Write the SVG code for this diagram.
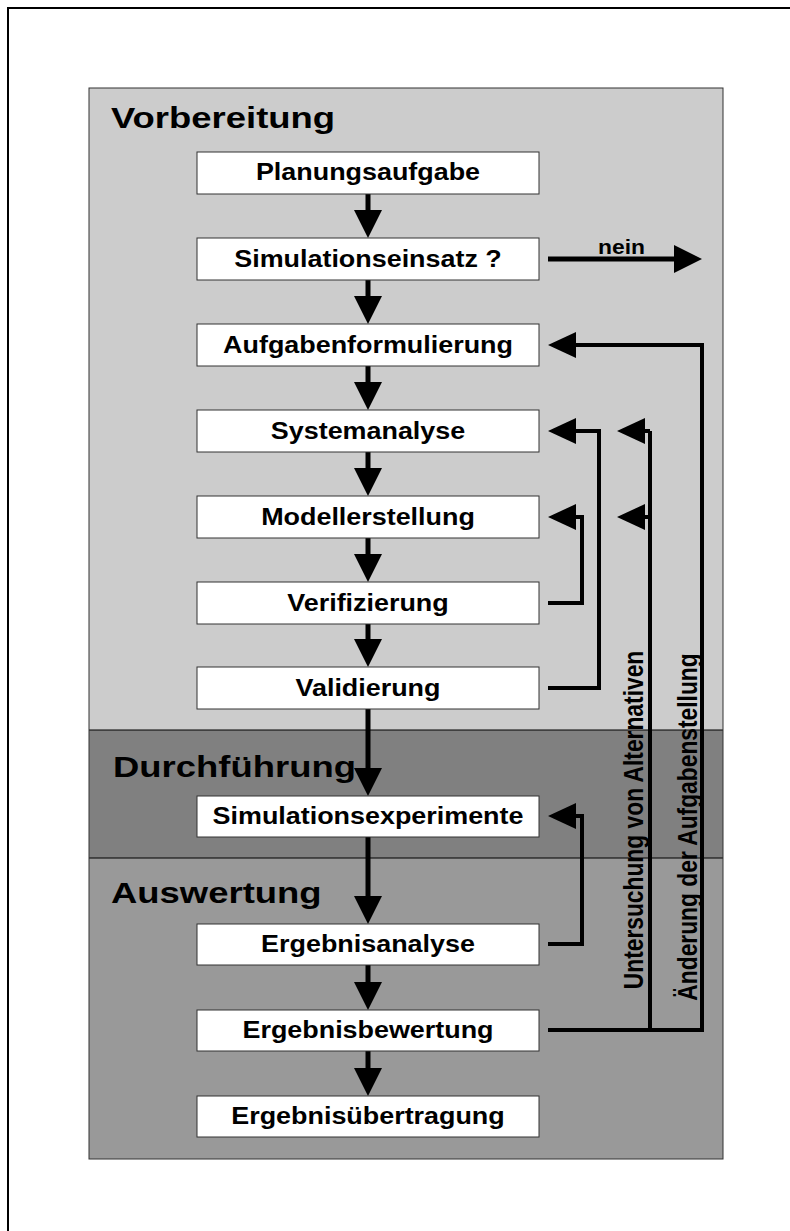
<svg xmlns="http://www.w3.org/2000/svg" width="790" height="1231" viewBox="0 0 790 1231">
<defs>
<style>
.box{fill:#ffffff;stroke:#333333;stroke-width:1}
.t{font-family:"Liberation Sans",Arial,Helvetica,sans-serif;font-weight:bold;font-size:23px;fill:#000;text-anchor:middle}
.h{font-family:"Liberation Sans",Arial,Helvetica,sans-serif;font-weight:bold;font-size:30px;fill:#000}
.v{font-family:"Liberation Sans",Arial,Helvetica,sans-serif;font-weight:bold;font-size:22.8px;fill:#000;text-anchor:middle}
.main{fill:none;stroke:#000;stroke-width:5;marker-end:url(#ah)}
.fb{fill:none;stroke:#000;stroke-width:4;stroke-linejoin:miter;marker-end:url(#af)}
.ln{fill:none;stroke:#000;stroke-width:4;stroke-linejoin:miter}
</style>
<marker id="ah" markerUnits="userSpaceOnUse" markerWidth="28" markerHeight="28" refX="0" refY="14" orient="auto" viewBox="0 0 28 28">
<path d="M0,0 L28,14 L0,28 z" fill="#000"/>
</marker>
<marker id="af" markerUnits="userSpaceOnUse" markerWidth="28" markerHeight="26" refX="0" refY="13" orient="auto" viewBox="0 0 28 26">
<path d="M0,0 L28,13 L0,26 z" fill="#000"/>
</marker>
</defs>

<rect width="790" height="1231" fill="#ffffff"/>
<path d="M8,1231 V8 H790" fill="none" stroke="#000" stroke-width="2"/>

<g id="phases">
<rect x="89" y="88" width="634" height="642" fill="#cccccc"/>
<rect x="89" y="730" width="634" height="128" fill="#808080"/>
<rect x="89" y="858" width="634" height="301" fill="#999999"/>
<line x1="89" y1="730" x2="723" y2="730" stroke="#000" stroke-width="1"/>
<line x1="89" y1="858" x2="723" y2="858" stroke="#000" stroke-width="1"/>
<rect x="89" y="88" width="634" height="1071" fill="none" stroke="#333333" stroke-width="1"/>
<text class="h" transform="translate(111,128) scale(1.215,1)">Vorbereitung</text>
<text class="h" transform="translate(113,777) scale(1.215,1)">Durchführung</text>
<text class="h" transform="translate(111,903) scale(1.215,1)">Auswertung</text>
</g>

<g id="connectors">
<path class="main" d="M368,194 V210"/>
<path class="main" d="M368,280 V296"/>
<path class="main" d="M368,366 V382"/>
<path class="main" d="M368,452 V468"/>
<path class="main" d="M368,538 V554"/>
<path class="main" d="M368,624 V639"/>
<path class="main" d="M368,709 V768"/>
<path class="main" d="M368,837 V896"/>
<path class="main" d="M368,965 V982"/>
<path class="main" d="M368,1051 V1068"/>
<path class="main" d="M548,259 H674"/>
<path class="fb" d="M548,1030 H702 V345 H576"/>
<path class="ln" d="M650,1030 V431"/>
<path class="fb" d="M650,431 H645"/>
<path class="fb" d="M650,517 H645"/>
<path class="fb" d="M548,688 H599 V431 H576"/>
<path class="fb" d="M548,603 H582 V517 H576"/>
<path class="fb" d="M548,944 H582 V816 H576"/>
<text class="t" style="font-size:19.5px" transform="translate(621.5,254) scale(1.17,1)">nein</text>
<text class="v" transform="translate(643,820) scale(1.18,1) rotate(-90)">Untersuchung von Alternativen</text>
<text class="v" transform="translate(697,827) scale(1.18,1) rotate(-90)">Änderung der Aufgabenstellung</text>
</g>

<g id="n1"><rect class="box" x="197" y="152" width="342" height="42"/><text class="t" transform="translate(368,180) scale(1.17,1)">Planungsaufgabe</text></g>
<g id="n2"><rect class="box" x="197" y="238" width="342" height="42"/><text class="t" transform="translate(368,267) scale(1.17,1)">Simulationseinsatz ?</text></g>
<g id="n3"><rect class="box" x="197" y="324" width="342" height="42"/><text class="t" transform="translate(368,353) scale(1.17,1)">Aufgabenformulierung</text></g>
<g id="n4"><rect class="box" x="197" y="410" width="342" height="42"/><text class="t" transform="translate(368,439) scale(1.17,1)">Systemanalyse</text></g>
<g id="n5"><rect class="box" x="197" y="496" width="342" height="42"/><text class="t" transform="translate(368,525) scale(1.17,1)">Modellerstellung</text></g>
<g id="n6"><rect class="box" x="197" y="582" width="342" height="42"/><text class="t" transform="translate(368,611) scale(1.17,1)">Verifizierung</text></g>
<g id="n7"><rect class="box" x="197" y="667" width="342" height="42"/><text class="t" transform="translate(368,696) scale(1.17,1)">Validierung</text></g>
<g id="n8"><rect class="box" x="197" y="796" width="342" height="41"/><text class="t" transform="translate(368,824) scale(1.17,1)">Simulationsexperimente</text></g>
<g id="n9"><rect class="box" x="197" y="924" width="342" height="41"/><text class="t" transform="translate(368,952) scale(1.17,1)">Ergebnisanalyse</text></g>
<g id="n10"><rect class="box" x="197" y="1010" width="342" height="41"/><text class="t" transform="translate(368,1038) scale(1.17,1)">Ergebnisbewertung</text></g>
<g id="n11"><rect class="box" x="197" y="1096" width="342" height="41"/><text class="t" transform="translate(368,1124) scale(1.17,1)">Ergebnisübertragung</text></g>
</svg>
